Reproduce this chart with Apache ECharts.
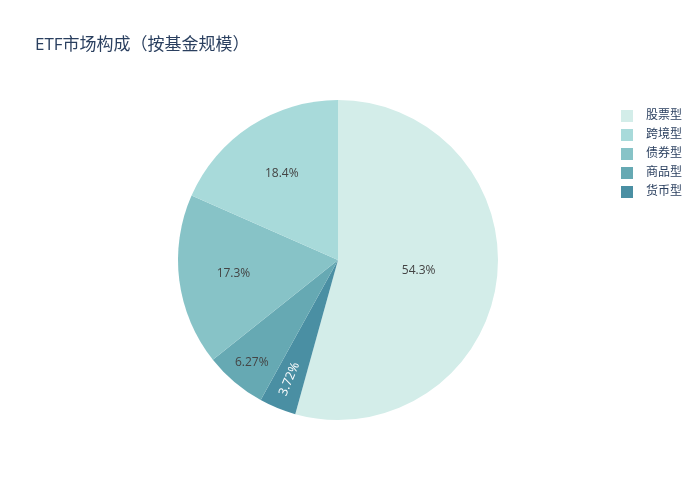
<!DOCTYPE html>
<html>
<head>
<meta charset="utf-8">
<title>ETF市场构成</title>
<script src="https://cdn.jsdelivr.net/npm/echarts@6/dist/echarts.min.js"></script>
<style>
  html, body { margin: 0; padding: 0; background: #fff; }
  #main { width: 700px; height: 500px; }
</style>
</head>
<body>
<div id="main"></div>
<script>
// data, in drawing order (clockwise from 12 o'clock)
var categories = ['股票型', '货币型', '商品型', '债券型', '跨境型'];
var shares = [54.3, 3.72, 6.27, 17.3, 18.4];
var legendOrder = ['股票型', '跨境型', '债券型', '商品型', '货币型'];

var colors = {
  '股票型': '#d3ede9',
  '跨境型': '#a8dada',
  '债券型': '#87c3c7',
  '商品型': '#66a9b3',
  '货币型': '#4a8fa3'
};
// how far out each label sits, relative to the default mid-radius
var labelPush = [0.98, 1.55, 1.61, 1.27, 1.24];

var CX = 338, CY = 260;

var total = shares.reduce(function (a, b) { return a + b; }, 0);
var pieData = categories.map(function (name, i) {
  var item = { name: name, value: shares[i], itemStyle: { color: colors[name] } };
  if (name === '货币型') {
    // radial text, reading outward-in like the original
    var before = shares.slice(0, i).reduce(function (a, b) { return a + b; }, 0);
    var mid = (before + shares[i] / 2) / total * 360;
    item.label = { color: '#fff', fontSize: 12.5, rotate: 90 - (mid - 180) };
  }
  return item;
});

var chart = echarts.init(document.getElementById('main'));
chart.setOption({
  animation: false,
  title: {
    text: 'ETF市场构成（按基金规模）',
    left: 30,
    top: 32,
    textStyle: {
      fontFamily: '"Open Sans", "Noto Sans CJK SC", sans-serif',
      fontSize: 17,
      fontWeight: 'normal',
      color: '#2a3f5f'
    }
  },
  legend: {
    orient: 'vertical',
    left: 616,
    top: 105,
    data: legendOrder,
    icon: 'rect',
    itemWidth: 12,
    itemHeight: 12,
    itemGap: 7,
    textStyle: {
      fontFamily: '"Open Sans", "Noto Sans CJK SC", sans-serif',
      fontSize: 12,
      color: '#2a3f5f',
      padding: [0, 0, 0, 8]
    }
  },
  series: [{
    type: 'pie',
    center: [CX, CY],
    radius: [0, 160],
    startAngle: 90,
    clockwise: true,
    avoidLabelOverlap: false,
    data: pieData,
    label: {
      show: true,
      position: 'inside',
      fontFamily: '"Open Sans", sans-serif',
      fontSize: 12,
      color: '#444',
      formatter: function (p) {
        return p.value + '%';
      }
    },
    labelLine: { show: false },
    emphasis: { disabled: true },
    labelLayout: function (p) {
      var r = p.labelRect;
      var lx = r.x + r.width / 2, ly = r.y + r.height / 2;
      var k = labelPush[p.dataIndex];
      return { x: CX + (lx - CX) * k, y: CY + (ly - CY) * k };
    }
  }]
});
</script>
</body>
</html>
